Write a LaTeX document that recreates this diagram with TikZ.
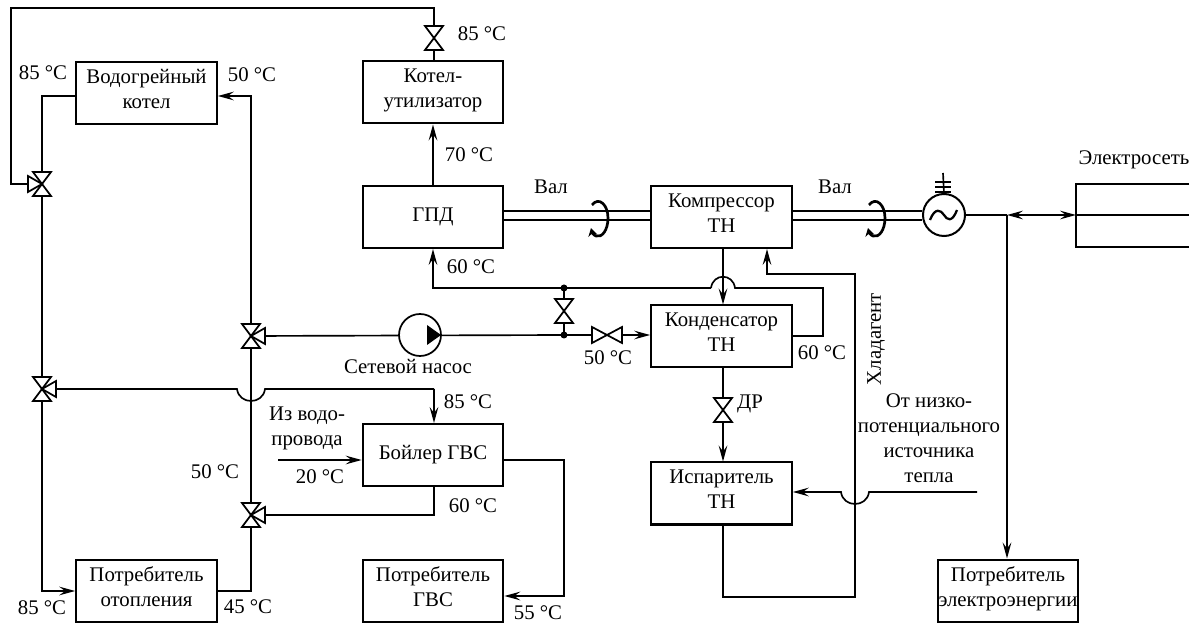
\documentclass[tikz,border=0pt]{standalone}
\usepackage{fontspec}
\setmainfont{Liberation Serif}
\usetikzlibrary{calc,arrows.meta,positioning}
\newcommand{\valvev}[1]{\draw[valveline,shift={(#1)}] (-9,-12)--(9,-12)--(-9,12)--(9,12)--cycle;}
\newcommand{\valveh}[1]{\draw[valveline,shift={(#1)}] (-15,-8)--(-15,8)--(15,-8)--(15,8)--cycle;}
\newcommand{\sideL}[1]{\draw[valveline,shift={(#1)}] (0,0)--(-14,-8)--(-14,8)--cycle;}
\newcommand{\sideR}[1]{\draw[valveline,shift={(#1)}] (0,0)--(14,-8)--(14,8)--cycle;}
\newcommand{\shaftspin}[1]{\draw[spin,shift={(#1)}] (-6,-14) .. controls (1,-23) and (10,-14) .. (10,-1) .. controls (10,11) and (4,19) .. (-2,17) .. controls (-5,16) and (-6,13) .. (-7,9);}
\newcommand{\up}{\rule[-6pt]{0pt}{0pt}}
\tikzset{
  pipe/.style={line width=1.25pt},
  flow/.style={pipe,-{Stealth[length=12pt,width=6.5pt,inset=4.5pt]}},
  flowboth/.style={pipe,{Stealth[length=12pt,width=6.5pt,inset=4.5pt]}-{Stealth[length=12pt,width=6.5pt,inset=4.5pt]}},
  valveline/.style={line width=1.3pt,fill=white,line join=miter},
  spin/.style={line width=2pt,-{Stealth[length=6pt,width=7pt]}},
  box/.style={draw,line width=1.5pt,minimum width=105.5pt,minimum height=46.5pt,inner sep=0pt,align=center,fill=white},
  lbl/.style={inner sep=0pt,align=center}
}
\begin{document}
\begin{tikzpicture}[x=.75pt,y=-.75pt,font=\fontsize{15.6}{18.8}\selectfont]
\useasboundingbox (0,0) rectangle (1200,623);
% boxes
\node[box] (boiler1) at (146.5,93) {Водогрейный\\котел\up};
\node[box] (heatuser) at (146.5,590.5) {Потребитель\\отопления\up};
\node[box] (recovery) at (433,92.5) {Котел-\\утилизатор\up};
\node[box] (gpd) at (433,217) {ГПД};
\node[box] (comp) at (721.5,217) {Компрессор\\ТН\up};
\node[box] (cond) at (721.5,336.5) {Конденсатор\\ТН\up};
\node[box] (evap) at (721.5,493.5) {Испаритель\\ТН\up};
\node[box] (dhw) at (433,455) {Бойлер ГВС};
\node[box] (dhwuser) at (433,590.5) {Потребитель\\ГВС\up};
\node[box] (eluser) at (1008,590.5) {Потребитель\\электроэнергии\up};
% valves and junctions
\coordinate (vA) at (42,184);
\coordinate (vB) at (42,389);
\coordinate (vC) at (251,336);
\coordinate (vD) at (251,515);
\coordinate (vE) at (434,38);
\coordinate (vF) at (564,311);
\coordinate (vG) at (607,335);
\coordinate (vH) at (723,410);
\coordinate (jA) at (564,288);
\coordinate (jB) at (564,335);
\coordinate (jC) at (1007,215);
% hot water loop
\draw[pipe] (vE)--(434,8)--(11,8)--(11,184)--(vA);
\draw[pipe] (recovery.north -| vE)--(vE);
\draw[pipe] (boiler1.west |- 0,96)--(42,96)--(vA);
\draw[pipe] (vA)--(vB);
\draw[flow] (vB)--(42,591)--(heatuser.west |- 0,591);
\draw[flow] (vC)--(251,96)--(boiler1.east |- 0,96);
\draw[pipe] (vC)--(vD);
\draw[pipe] (vD)--(251,591)--(heatuser.east |- 0,591);
\draw[pipe] (vB)--(237,389) .. controls (239,405) and (263,405) .. (265,389)--(434,389);
\draw[flow] (434,389)--(dhw.north -| 434,0);
\draw[pipe] (dhw.south -| 434,0)--(434,515)--(vD);
\draw[flow] (dhw.east |- 0,460)--(564,460)--(564,596)--(dhwuser.east |- 0,596);
\coordinate (tap) at (278,460);
\draw[flow] (tap)--(dhw.west |- tap);
% pump line
\coordinate (pump) at (420,335);
\draw[pipe] (vC)--(jB);
\draw[flow] (jB)--(cond.west |- jB);
\draw[pipe] (jB)--(jA);
\node[draw,circle,line width=1.3pt,minimum size=31.5pt,inner sep=0pt,fill=white] (netpump) at (pump) {};
\fill (427,325)--(441,335)--(427,345)--cycle;
% engine and condenser outlet
\draw[pipe] (cond.east |- 0,336)--(823,336)--(823,288)--(735,288) .. controls (733,273) and (713,273) .. (711,288);
\draw[flow] (711,288)--(433,288)--(gpd.south -| 433,0);
\draw[flow] (gpd.north -| 433,0)--(recovery.south -| 433,0);
\draw[flow] (comp.south -| 723,0)--(cond.north -| 723,0);
% refrigerant
\draw[pipe] (cond.south -| 723,0)--(vH);
\draw[flow] (vH)--(evap.north -| 723,0);
\draw[flow] (evap.south -| 723,0)--(723,597)--(855,597)--(855,274)--(767,274)--(comp.south -| 767,0);
\coordinate (source) at (977,492);
\draw[flow] (source)--(869,492) .. controls (867,508) and (843,508) .. (841,492)--(evap.east |- 0,492);
% valves
\valvev{vA}\sideL{vA}
\valvev{vB}\sideR{vB}
\valvev{vC}\sideR{vC}
\valvev{vD}\sideR{vD}
\valvev{vE}
\valvev{vF}
\valveh{vG}
\valvev{vH}
\fill (jA) circle (3.5);\fill (jB) circle (3.5);
% shafts
\draw[pipe] (gpd.east |- 0,211)--(comp.west |- 0,211);
\draw[pipe] (gpd.east |- 0,220)--(comp.west |- 0,220);
\node[draw,circle,line width=1.5pt,minimum size=31.5pt,inner sep=0pt,fill=white] (gen) at (944,215) {};
\draw[pipe] (comp.east |- 0,211)--(gen.west |- 0,211);
\draw[pipe] (comp.east |- 0,220)--(gen.west |- 0,220);
\shaftspin{598,219}
\shaftspin{875,219}
\draw[line width=1.7pt] (930,220) .. controls (935,207) and (941,210) .. (944,215) .. controls (947,220) and (952,223) .. (957,210);
\draw[pipe] (gen.north)--(943,173);
\draw[pipe] (935,182)--(951,182) (935,187)--(951,187) (935,192)--(951,192);
% electric side
\coordinate (grid) at (1076,215);
\draw[pipe] (gen.east)--(jC);
\draw[flowboth] (jC)--(grid);
\draw[flow] (jC)--(eluser.north -| jC);
\draw[pipe] (1189,184)--(1076,184)--(1076,247)--(1189,247);
\draw[pipe] (grid)--(1189,215);
% labels
\node[lbl] (t01) at (43,73) {85 °C};
\node[lbl] (t02) at (252,75) {50 °C};
\node[lbl] (t03) at (42,608) {85 °C};
\node[lbl] (t04) at (248,607) {45 °C};
\node[lbl] (t05) at (215,472) {50 °C};
\node[lbl] (t06) at (482,34) {85 °C};
\node[lbl] (t07) at (469,155) {70 °C};
\node[lbl] (t08) at (471,267) {60 °C};
\node[lbl] (t09) at (608,358) {50 °C};
\node[lbl] (t10) at (822,353) {60 °C};
\node[lbl] (t11) at (468,402) {85 °C};
\node[lbl] (t12) at (473,506) {60 °C};
\node[lbl] (t13) at (320,477) {20 °C};
\node[lbl] (t14) at (538,613) {55 °C};
\node[lbl] (t15) at (551,187) {Вал};
\node[lbl] (t16) at (835,187) {Вал};
\node[lbl] (t17) at (1134,160) {Электросеть};
\node[lbl] (t18) at (408,366) {Сетевой насос};
\node[lbl] (t19) at (307,428.5) {Из водо-\\провода};
\node[lbl] (t20) at (750,404) {ДР};
\node[lbl] (t21) at (929,438.5) {От низко-\\потенциального\\источника\\тепла};
\node[lbl,rotate=90] (t22) at (876,339) {Хладагент};
\end{tikzpicture}
\end{document}
